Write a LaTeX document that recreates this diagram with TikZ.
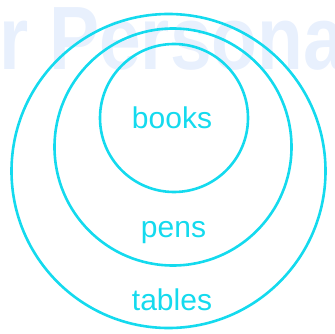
\documentclass[tikz,border=0pt]{standalone}
\usepackage{fontspec}
\setmainfont{Liberation Sans}
\usepackage{xcolor}
\usepackage{tikz}
\usetikzlibrary{positioning}
\definecolor{setcyan}{RGB}{20,218,238}
\definecolor{markblue}{RGB}{232,240,253}
\tikzset{
  setring/.style={circle, draw=setcyan, line width=2.6pt, inner sep=0pt},
  setlabel/.style={text=setcyan, font=\fontsize{30}{36}\selectfont, anchor=base},
  watermark/.style={text=markblue, font=\bfseries\fontsize{75}{90}\selectfont, inner sep=0pt}
}
\begin{document}
\begin{tikzpicture}[x=1pt,y=-1pt]
\useasboundingbox (0,0) rectangle (334,334);
\begin{scope}
\clip (0,0) rectangle (334,334);
% faint mark in the back
\node[watermark, anchor=base west] (mark) at (-1,70) {\scalebox{1}[1.2]{r Persona}};
\end{scope}
% nested sets
\node[setring, minimum size=314pt] (tables) at (168.5,171) {};
\node[setring, minimum size=237pt] (pens) at (173,147) {};
\node[setring, minimum size=148pt] (books) at (174,118) {};
\node[setlabel] (bookstext) at (172,128) {books};
\node[setlabel] (penstext) at (173.5,237) {pens};
\node[setlabel] (tablestext) at (172,310) {tables};
\end{tikzpicture}
\end{document}
